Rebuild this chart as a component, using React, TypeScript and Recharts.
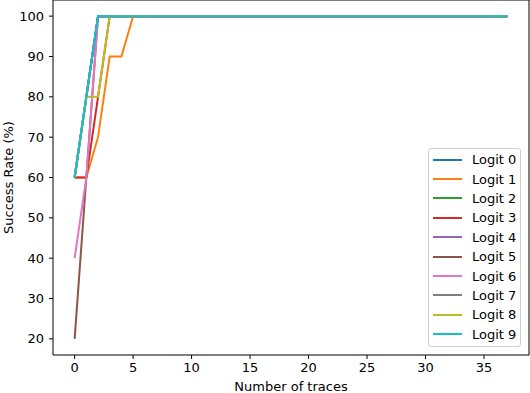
import { Legend, Line, LineChart, ReferenceArea, XAxis, YAxis } from 'recharts';

const traces = [
  0, 1, 2, 3, 4, 5, 6, 7, 8, 9,
  10, 11, 12, 13, 14, 15, 16, 17, 18, 19,
  20, 21, 22, 23, 24, 25, 26, 27, 28, 29,
  30, 31, 32, 33, 34, 35, 36, 37,
];

const logit0 = [
  60, 80, 100, 100, 100, 100, 100, 100, 100, 100,
  100, 100, 100, 100, 100, 100, 100, 100, 100, 100,
  100, 100, 100, 100, 100, 100, 100, 100, 100, 100,
  100, 100, 100, 100, 100, 100, 100, 100,
];
const logit1 = [
  60, 60, 70, 90, 90, 100, 100, 100, 100, 100,
  100, 100, 100, 100, 100, 100, 100, 100, 100, 100,
  100, 100, 100, 100, 100, 100, 100, 100, 100, 100,
  100, 100, 100, 100, 100, 100, 100, 100,
];
const logit2 = [
  60, 80, 100, 100, 100, 100, 100, 100, 100, 100,
  100, 100, 100, 100, 100, 100, 100, 100, 100, 100,
  100, 100, 100, 100, 100, 100, 100, 100, 100, 100,
  100, 100, 100, 100, 100, 100, 100, 100,
];
const logit3 = [
  60, 60, 80, 100, 100, 100, 100, 100, 100, 100,
  100, 100, 100, 100, 100, 100, 100, 100, 100, 100,
  100, 100, 100, 100, 100, 100, 100, 100, 100, 100,
  100, 100, 100, 100, 100, 100, 100, 100,
];
const logit4 = [
  60, 80, 100, 100, 100, 100, 100, 100, 100, 100,
  100, 100, 100, 100, 100, 100, 100, 100, 100, 100,
  100, 100, 100, 100, 100, 100, 100, 100, 100, 100,
  100, 100, 100, 100, 100, 100, 100, 100,
];
const logit5 = [
  20, 60, 100, 100, 100, 100, 100, 100, 100, 100,
  100, 100, 100, 100, 100, 100, 100, 100, 100, 100,
  100, 100, 100, 100, 100, 100, 100, 100, 100, 100,
  100, 100, 100, 100, 100, 100, 100, 100,
];
const logit6 = [
  40, 60, 100, 100, 100, 100, 100, 100, 100, 100,
  100, 100, 100, 100, 100, 100, 100, 100, 100, 100,
  100, 100, 100, 100, 100, 100, 100, 100, 100, 100,
  100, 100, 100, 100, 100, 100, 100, 100,
];
const logit7 = [
  60, 80, 100, 100, 100, 100, 100, 100, 100, 100,
  100, 100, 100, 100, 100, 100, 100, 100, 100, 100,
  100, 100, 100, 100, 100, 100, 100, 100, 100, 100,
  100, 100, 100, 100, 100, 100, 100, 100,
];
const logit8 = [
  60, 80, 80, 100, 100, 100, 100, 100, 100, 100,
  100, 100, 100, 100, 100, 100, 100, 100, 100, 100,
  100, 100, 100, 100, 100, 100, 100, 100, 100, 100,
  100, 100, 100, 100, 100, 100, 100, 100,
];
const logit9 = [
  60, 80, 100, 100, 100, 100, 100, 100, 100, 100,
  100, 100, 100, 100, 100, 100, 100, 100, 100, 100,
  100, 100, 100, 100, 100, 100, 100, 100, 100, 100,
  100, 100, 100, 100, 100, 100, 100, 100,
];

const seriesNames = [
  'Logit 0', 'Logit 1', 'Logit 2', 'Logit 3', 'Logit 4',
  'Logit 5', 'Logit 6', 'Logit 7', 'Logit 8', 'Logit 9',
];
const seriesValues = [logit0, logit1, logit2, logit3, logit4, logit5, logit6, logit7, logit8, logit9];

const xTicks = [0, 5, 10, 15, 20, 25, 30, 35];
const yTicks = [20, 30, 40, 50, 60, 70, 80, 90, 100];

const COLORS = [
  '#1f77b4', '#ff7f0e', '#2ca02c', '#d62728', '#9467bd',
  '#8c564b', '#e377c2', '#7f7f7f', '#bcbd22', '#17becf',
];

const FONT = '"DejaVu Sans", sans-serif';

const data = traces.map((t, i) => {
  const row: Record<string, number> = { traces: t };
  seriesNames.forEach((name, s) => {
    row[name] = seriesValues[s][i];
  });
  return row;
});

function LegendBox() {
  return (
    <div
      style={{
        width: 91,
        padding: '1px 0 2px 0',
        border: '1px solid #d0d0d0',
        borderRadius: 3,
        background: 'rgba(255,255,255,0.8)',
        fontFamily: FONT,
        fontSize: 13,
        color: '#000',
      }}
    >
      {seriesNames.map((name, i) => (
        <div key={name} style={{ display: 'flex', alignItems: 'center', height: 19.4 }}>
          <div style={{ width: 29, height: 2, marginLeft: 4, background: COLORS[i] }} />
          <span style={{ marginLeft: 10, lineHeight: '15px' }}>{name}</span>
        </div>
      ))}
    </div>
  );
}

export default function App() {
  return (
    <div style={{ position: 'absolute', left: 0, top: 0, background: '#fff' }}>
      <LineChart
        width={530}
        height={393}
        data={data}
        margin={{ top: 0, right: 1, bottom: 0, left: 0 }}
        style={{ fontFamily: FONT }}
      >
        <XAxis
          dataKey="traces"
          type="number"
          domain={[-1.85, 38.85]}
          ticks={xTicks}
          height={38}
          tickSize={4}
          tickMargin={4}
          stroke="#000"
          tick={{ fill: '#000', fontSize: 13 }}
          tickLine={{ stroke: '#000' }}
          axisLine={false}
          label={{ value: 'Number of traces', position: 'insideBottom', offset: 2, fill: '#000', fontSize: 13 }}
        />
        <YAxis
          type="number"
          domain={[16, 104]}
          ticks={yTicks}
          width={53}
          tickSize={4}
          tickMargin={5}
          stroke="#000"
          tick={{ fill: '#000', fontSize: 13 }}
          tickLine={{ stroke: '#000' }}
          axisLine={false}
          label={{
            value: 'Success Rate (%)',
            angle: -90,
            position: 'insideLeft',
            offset: 8,
            fill: '#000',
            fontSize: 13,
            style: { textAnchor: 'middle' },
          }}
        />
        <ReferenceArea
          x1={-1.85}
          x2={38.85}
          y1={16}
          y2={104}
          fill="none"
          stroke="#000"
          strokeWidth={1}
          ifOverflow="visible"
        />
        {seriesNames.map((name, i) => (
          <Line
            key={name}
            type="linear"
            dataKey={name}
            name={name}
            stroke={COLORS[i]}
            strokeWidth={2}
            dot={false}
            activeDot={false}
            isAnimationActive={false}
          />
        ))}
        <Legend
          layout="horizontal"
          verticalAlign="middle"
          align="center"
          content={() => <LegendBox />}
          wrapperStyle={{ position: 'absolute', left: 428, top: 148, width: 93 }}
        />
      </LineChart>
    </div>
  );
}
